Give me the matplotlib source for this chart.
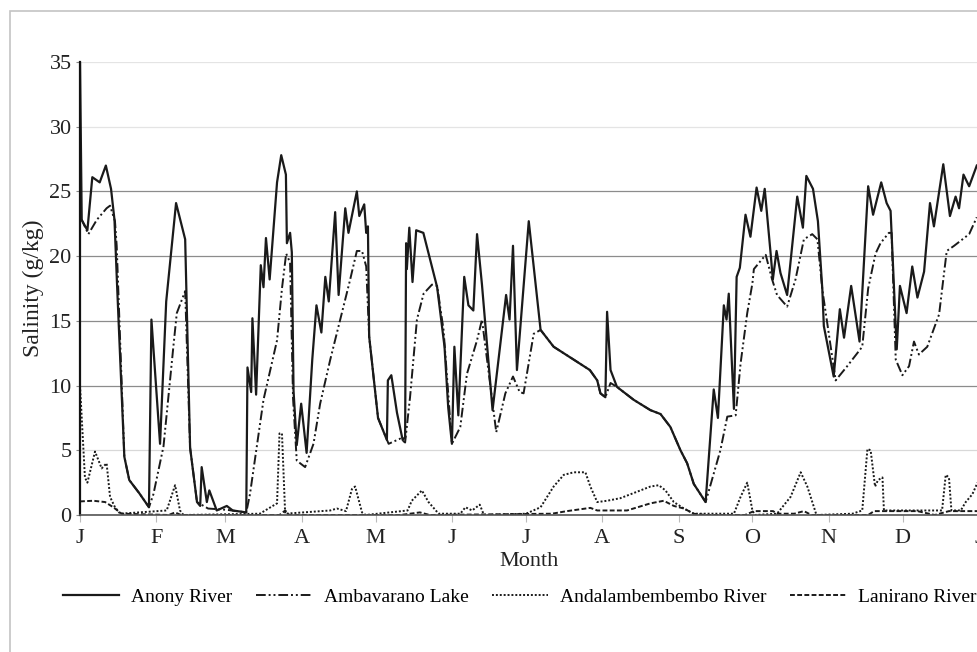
import matplotlib
matplotlib.use('Agg')
import matplotlib.pyplot as plt
from matplotlib.patches import Rectangle

plt.rcParams['font.family'] = ['Liberation Serif', 'DejaVu Serif']

# day of year (0 = 1 January) and salinity in g/kg
anony_day = [0, 0.7, 3, 5, 8, 10.5, 12.6, 14, 15, 18, 20, 24, 28, 29, 32.5, 35, 39, 42.7,
             44.7, 47.5, 48.8, 49.4, 51.5, 52.5, 55.5, 59.6, 62, 67.5, 68, 69.5, 70, 71.5,
             73.4, 74.5, 75.5, 77, 80, 81.7, 83.6, 84, 85.3, 86, 86.7, 88, 89.8, 92, 94.3,
             96, 98, 99.6, 101, 103.6, 105, 107.7, 109, 112.4, 113.4, 115.4, 116.2, 116.9,
             117.4, 121, 124.6, 125, 126.4, 128.7, 131, 132, 132.4, 132.7, 133.7, 135, 136.5,
             139.4, 145, 148, 149.5, 151, 152, 153.6, 156, 157.7, 159.7, 161.2, 163.2, 167.5,
             173, 174.4, 175.8, 177.4, 182.2, 187, 192.3, 200.5, 207, 210, 211.3, 213.3, 214,
             215.4, 218, 224.8, 231.6, 235.7, 239.7, 243.8, 246.5, 249.2, 254, 257.3, 259,
             261.4, 262.5, 263.4, 265.5, 266.6, 267.9, 270.2, 272.2, 274.7, 276.6, 278, 280.4,
             281.3, 282.8, 284.4, 287.1, 291.2, 293.5, 294.9, 297.6, 299.6, 301.4, 302, 306,
             308.5, 310.2, 313.1, 316.5, 320, 322, 325.3, 327.5, 329.1, 331.6, 332.9, 335.6,
             337.9, 340, 342.7, 345.1, 346.7, 350.5, 353.2, 355.5, 356.9, 358.7, 361, 364.1]
anony_sal = [35, 22.8, 22.0, 26.1, 25.7, 27.0, 25.2, 22.8, 18.0, 4.5, 2.7, 1.7, 0.6, 15.1, 5.5,
             16.5, 24.1, 21.3, 5.2, 1.0, 0.7, 3.7, 1.0, 1.9, 0.35, 0.7, 0.35, 0.2, 11.4, 9.5,
             15.2, 9.3, 19.3, 17.6, 21.4, 18.2, 25.7, 27.8, 26.3, 21.0, 21.8, 20.3, 9.6, 5.4,
             8.6, 4.8, 12.0, 16.2, 14.1, 18.4, 16.5, 23.4, 17.0, 23.7, 21.8, 25.0, 23.1, 24.0,
             21.8, 22.3, 13.8, 7.5, 5.8, 10.4, 10.8, 7.9, 5.8, 6.0, 21.0, 19.0, 22.2,
             18.0, 22.0, 21.8, 17.6, 13.0, 8.3, 5.5, 13.0, 7.7, 18.4, 16.2, 15.8, 21.7, 17.8,
             8.1, 17.0, 15.1, 20.8, 11.2, 22.7, 14.3, 13.0, 12.0, 11.2, 10.4, 9.4, 9.1, 15.7,
             11.2, 9.9, 8.9, 8.1, 7.8, 6.8, 5.0, 4.0, 2.4, 1.0, 9.7, 7.5, 16.2, 15.1, 17.1, 8.2,
             18.4, 19.1, 23.2, 21.5, 25.3, 23.5, 25.2, 20.2, 18.2, 20.4, 18.7, 17.0, 24.6,
             22.2, 26.2, 25.2, 22.7, 17.4, 14.6, 10.7, 15.9, 13.7, 17.7, 13.4, 25.4, 23.2, 25.7,
             24.1, 23.5, 12.8, 17.7, 15.6, 19.2, 16.8, 18.8, 24.1, 22.3, 27.1, 23.1, 24.6,
             23.7, 26.3, 25.4, 27.0]

ambavarano_day = [0, 0.7, 3.4, 6.8, 10.8, 12.2, 14.2, 14.9, 18, 20, 24, 28, 29.8, 33.9, 35.2,
                  37.9, 39.3, 42.7, 44.7, 47.5, 52, 59.6, 67.5, 69, 74.5, 80, 82, 83.7, 85.3,
                  86.5, 88, 91.4, 94.8, 97.5, 101.6, 109.7, 112.4, 114.5, 116.2, 117.4, 121,
                  125.3, 130, 132, 134, 136.8, 139.5, 142.9, 145, 147.6, 151, 154.4, 157.1,
                  161.2, 163.2, 169, 172.7, 175.8, 178.5, 180.1, 184.2, 187, 192.3, 200.5, 207,
                  210, 211.3, 213.3, 215.4, 218, 224.8, 231.6, 235.7, 239.7, 243.8, 246.5,
                  249.2, 254, 260, 262.8, 266.2, 268.2, 270.9, 273, 273.6, 278.4, 281, 283,
                  287.1, 290.5, 293.9, 297.3, 299.4, 301.4, 306.8, 311.5, 317.6, 320, 323, 325,
                  328.4, 329.5, 331.2, 333.9, 336.6, 338.6, 340.6, 344, 348.8, 350.5, 351.9,
                  354.9, 361, 364.1]
ambavarano_sal = [22.8, 22.8, 21.7, 22.8, 23.7, 23.9, 22.7, 20.8, 4.5, 2.7, 1.7, 0.6, 1.6, 5.3,
                  7.8, 13.0, 15.6, 17.3, 5.2, 1.0, 0.5, 0.4, 0.2, 1.6, 8.9, 13.5, 17.5, 20.2,
                  19.5, 9.0, 4.2, 3.7, 5.5, 8.6, 12.0, 18.2, 20.4, 20.4, 19.2, 13.8, 7.5, 5.5,
                  5.9, 5.6, 9.1, 15.1, 17.1, 17.8, 17.7, 14.3, 5.5, 6.8, 10.9, 13.5, 15.1, 6.4,
                  9.4, 10.7, 9.5, 9.4, 14.0, 14.3, 13.0, 12.0, 11.2, 10.4, 9.4, 9.1, 10.2, 9.9,
                  8.9, 8.1, 7.8, 6.8, 5.0, 4.0, 2.4, 1.0, 5.0, 7.6, 7.7, 11.7, 15.6, 17.9, 19.0,
                  20.1, 18.2, 17.0, 16.1, 18.2, 21.3, 21.7, 21.3, 17.4, 10.4, 11.5, 13.0, 17.5,
                  20.2, 21.0, 21.8, 21.8, 12.0, 10.8, 11.5, 13.4, 12.4, 13.0, 15.5, 18.2, 20.4,
                  20.8, 21.7, 23.0]

andalambe_day = [0, 2, 3, 6.1, 8.8, 10.8, 12.2, 14.2, 16.3, 35.2, 38.6, 40.6, 42, 73, 80, 81,
                 82, 83.3, 101.6, 104.3, 108, 110.4, 111.7, 114.5, 116, 133, 134.7, 138.8,
                 141.5, 145.6, 154.4, 156.5, 159.2, 162.3, 164, 181.1, 187, 192.3, 196.4,
                 200.5, 205.2, 207.2, 210, 214, 219.4, 226.2, 231.6, 235, 237.7, 241.1, 245.2,
                 249.2, 265.5, 268.2, 270.9, 273, 274, 283, 288.5, 292.6, 295.3, 298, 299,
                 313.6, 317.6, 319.7, 321, 322.8, 324, 325.8, 326.4, 350, 351.5, 352.8, 353.8,
                 357.6, 359.6, 362.3, 364.4]
andalambe_sal = [10.0, 2.9, 2.5, 4.9, 3.6, 4.0, 1.4, 0.6, 0.1, 0.35, 2.3, 0.35, 0, 0.1, 0.9,
                 6.3, 6.3, 0.1, 0.35, 0.5, 0.3, 2.0, 2.2, 0.2, 0, 0.35, 1.1, 1.9, 1.0, 0.1, 0.1,
                 0.6, 0.35, 0.8, 0, 0.1, 0.6, 2.2, 3.1, 3.3, 3.3, 2.2, 1.0, 1.1, 1.3, 1.8, 2.2,
                 2.3, 1.9, 1.0, 0.5, 0.1, 0.1, 1.4, 2.5, 0.35, 0, 0.1, 1.4, 3.3, 2.2, 0.6, 0,
                 0.1, 0.35, 5.1, 5.0, 2.2, 2.7, 2.9, 0.35, 0.35, 3.1, 2.9, 0.35, 0.35, 1.0, 1.6,
                 2.5]

lanirano_day = [0, 5.4, 10.2, 13.5, 16.9, 36, 38.6, 41, 81, 83.3, 85, 130, 138, 142, 191.6,
                197.7, 207.2, 210, 222.1, 231.6, 237, 241.1, 245.2, 249.2, 254, 270, 273.6,
                281.4, 283, 290, 293.9, 297, 320, 322.4, 340, 347, 352.8, 364.5]
lanirano_sal = [1.05, 1.1, 1.0, 0.6, 0.1, 0, 0.2, 0, 0, 0.35, 0, 0, 0.2, 0, 0.1, 0.3, 0.55,
                0.35, 0.35, 0.9, 1.1, 0.7, 0.5, 0.1, 0, 0, 0.3, 0.3, 0.1, 0.1, 0.3, 0, 0, 0.3,
                0.3, 0, 0.3, 0.3]

month_days = [0, 31, 59, 90, 120, 151, 181, 212, 243, 273, 304, 334, 365]
month_labels = ['J', 'F', 'M', 'A', 'M', 'J', 'J', 'A', 'S', 'O', 'N', 'D', 'J']
y_ticks = [0, 5, 10, 15, 20, 25, 30, 35]

fig = plt.figure(figsize=(9.77, 6.52), dpi=100)
fig.patches.append(Rectangle((10 / 977, -0.1), 1.2, (652 - 11) / 652 + 0.1,
                             transform=fig.transFigure, fill=False,
                             edgecolor='#c4c4c4', linewidth=1.2))

ax = fig.add_axes([80 / 977, 137 / 652, 899 / 977, 453 / 652])

ax.plot(anony_day, anony_sal, color='#1a1a1a', lw=1.6, label='Anony River')
ax.plot(ambavarano_day, ambavarano_sal, color='#1a1a1a', lw=1.4,
        dashes=(5, 1.5, 1, 1.5, 1, 1.5), label='Ambavarano Lake')
ax.plot(andalambe_day, andalambe_sal, color='#1a1a1a', lw=1.4,
        dashes=(1, 1), label='Andalambembembo River')
ax.plot(lanirano_day, lanirano_sal, color='#1a1a1a', lw=1.4,
        dashes=(2.5, 1.2), label='Lanirano River')

ax.set_xlim(0, 365)
ax.set_ylim(0, 35)
ax.set_yticks(y_ticks)
ax.set_xticks(month_days)
ax.set_xticklabels(month_labels)
ax.grid(axis='y', lw=0.9)
ax.set_axisbelow(True)
# the scan shows the 5, 30 and 35 lines much fainter than the others
grid_colors = ['#8c8c8c', '#d8d8d8', '#8c8c8c', '#8c8c8c', '#8c8c8c', '#8c8c8c',
               '#e4e4e4', '#e4e4e4']
for gl, c in zip(ax.yaxis.get_gridlines(), grid_colors):
    gl.set_color(c)
for s in ['top', 'right']:
    ax.spines[s].set_visible(False)
ax.spines['left'].set_color('#111111')
ax.spines['left'].set_linewidth(1.6)
ax.spines['bottom'].set_color('#555555')
ax.spines['bottom'].set_linewidth(1.2)
ax.tick_params(axis='y', length=3, color='#888888', labelsize=16, pad=3, labelcolor='#222222')
ax.tick_params(axis='x', length=5, color='#bbbbbb', labelsize=16, pad=5, labelcolor='#222222')
ax.set_xlabel('Month', fontsize=16, color='#222222', labelpad=3)
ax.set_ylabel('Salinity (g/kg)', fontsize=17, color='#222222', labelpad=4)

fig.legend(loc='center left', bbox_to_anchor=(63 / 977, 1 - 597 / 652), ncol=4,
           frameon=False, fontsize=14, borderpad=0, borderaxespad=0,
           handlelength=2.9, handletextpad=0.6, columnspacing=1.2)

fig.savefig('out.png', dpi=100)
